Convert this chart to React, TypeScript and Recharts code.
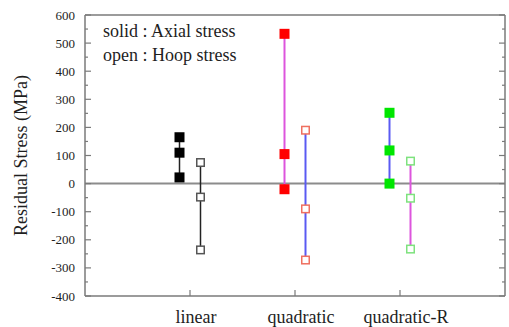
import { ScatterChart, Scatter, XAxis, YAxis, ReferenceLine } from "recharts";

const categories = ["linear", "quadratic", "quadratic-R"];

// residual stress (MPa), three measurements per fitting model
const axialLinear = [165, 110, 22];
const hoopLinear = [75, -48, -236];
const axialQuadratic = [533, 105, -20];
const hoopQuadratic = [190, -90, -272];
const axialQuadraticR = [252, 118, 0];
const hoopQuadraticR = [80, -52, -233];

const yTicks = [
  -400, -350, -300, -250, -200, -150, -100, -50, 0, 50, 100, 150, 200, 250,
  300, 350, 400, 450, 500, 550, 600,
];
const xTicks = [1, 2, 3];

const FONT = '"Liberation Serif", "Times New Roman", serif';
const AXIS = "#7a7a7a";
const TEXT = "#1e1e1e";

type Kind = "axial" | "hoop";

const series: {
  key: string;
  cat: number;
  kind: Kind;
  values: number[];
  color: string;
  lineColor: string;
}[] = [
  { key: "lin-axial", cat: 0, kind: "axial", values: axialLinear, color: "#000000", lineColor: "#222222" },
  { key: "lin-hoop", cat: 0, kind: "hoop", values: hoopLinear, color: "#555555", lineColor: "#222222" },
  { key: "quad-axial", cat: 1, kind: "axial", values: axialQuadratic, color: "#ff0000", lineColor: "#dd55dd" },
  { key: "quad-hoop", cat: 1, kind: "hoop", values: hoopQuadratic, color: "#ef7060", lineColor: "#5a5af2" },
  { key: "quadR-axial", cat: 2, kind: "axial", values: axialQuadraticR, color: "#00e600", lineColor: "#5a5af2" },
  { key: "quadR-hoop", cat: 2, kind: "hoop", values: hoopQuadraticR, color: "#7ee27e", lineColor: "#dd55dd" },
];

// axial points sit left of the category tick, hoop points right of it
const toPoints = (cat: number, kind: Kind, values: number[]) =>
  values.map((v) => ({ x: cat + 1 + (kind === "axial" ? -0.1 : 0.1), y: v }));

const solidSquare = (color: string) => (p: any) => (
  <rect x={p.cx - 5} y={p.cy - 5} width={10} height={10} fill={color} />
);

const openSquare = (color: string) => (p: any) => (
  <rect
    x={p.cx - 3.75}
    y={p.cy - 3.75}
    width={7.5}
    height={7.5}
    fill="#ffffff"
    stroke={color}
    strokeWidth={1.5}
  />
);

function LeftTick(props: any) {
  const { x, y, payload } = props;
  const v = payload.value as number;
  const major = v % 100 === 0;
  return (
    <g>
      <line x1={x} x2={x + (major ? 6 : 3)} y1={y} y2={y} stroke={AXIS} strokeWidth={1.2} />
      {major && (
        <text x={x - 10} y={y} dy="0.35em" textAnchor="end" fontSize={13} fontFamily={FONT} fill={TEXT}>
          {v}
        </text>
      )}
    </g>
  );
}

function RightTick(props: any) {
  const { x, y, payload } = props;
  const major = (payload.value as number) % 100 === 0;
  return <line x1={x} x2={x - (major ? 6 : 3)} y1={y} y2={y} stroke={AXIS} strokeWidth={1.2} />;
}

function BottomTick(props: any) {
  const { x, y, payload } = props;
  return (
    <g>
      <line x1={x} x2={x} y1={y} y2={y - 6} stroke={AXIS} strokeWidth={1.2} />
      <text x={x + 6} y={y + 27} textAnchor="middle" fontSize={18} fontFamily={FONT} fill={TEXT}>
        {categories[payload.value - 1]}
      </text>
    </g>
  );
}

function TopTick(props: any) {
  const { x, y } = props;
  return <line x1={x} x2={x} y1={y} y2={y + 6} stroke={AXIS} strokeWidth={1.2} />;
}

export default function App() {
  return (
    <div style={{ position: "absolute", left: 0, top: 0, width: 509, height: 327, background: "#fff" }}>
      <ScatterChart width={509} height={327} margin={{ top: 14, right: 3, bottom: 0, left: 0 }}>
        <XAxis
          xAxisId="bottom"
          type="number"
          dataKey="x"
          domain={[0, 4]}
          ticks={xTicks}
          interval={0}
          height={31}
          tickSize={0}
          tickMargin={0}
          tickLine={false}
          axisLine={{ stroke: AXIS, strokeWidth: 1.5 }}
          tick={<BottomTick />}
        />
        <XAxis
          xAxisId="top"
          orientation="top"
          type="number"
          domain={[0, 4]}
          allowDataOverflow
          ticks={xTicks}
          interval={0}
          height={1}
          tickSize={0}
          tickMargin={0}
          tickLine={false}
          axisLine={{ stroke: AXIS, strokeWidth: 1.5 }}
          tick={<TopTick />}
        />
        <YAxis
          yAxisId="left"
          type="number"
          dataKey="y"
          domain={[-400, 600]}
          ticks={yTicks}
          interval={0}
          width={85}
          tickSize={0}
          tickMargin={0}
          tickLine={false}
          axisLine={{ stroke: AXIS, strokeWidth: 1.5 }}
          tick={<LeftTick />}
          label={{
            value: "Residual Stress (MPa)",
            angle: -90,
            position: "insideLeft",
            offset: 21,
            style: { textAnchor: "middle", fontSize: 18, fontFamily: FONT, fill: TEXT },
          }}
        />
        <YAxis
          yAxisId="right"
          orientation="right"
          type="number"
          domain={[-400, 600]}
          allowDataOverflow
          ticks={yTicks}
          interval={0}
          width={1}
          tickSize={0}
          tickMargin={0}
          tickLine={false}
          axisLine={{ stroke: AXIS, strokeWidth: 1.5 }}
          tick={<RightTick />}
        />
        <ReferenceLine xAxisId="bottom" yAxisId="left" y={0} stroke="#8c8c8c" strokeWidth={2} />
        {series.map((s) => (
          <Scatter
            key={s.key}
            xAxisId="bottom"
            yAxisId="left"
            data={toPoints(s.cat, s.kind, s.values)}
            line={{ stroke: s.lineColor, strokeWidth: s.cat === 0 ? 1.5 : 2 }}
            shape={s.kind === "axial" ? solidSquare(s.color) : openSquare(s.color)}
            isAnimationActive={false}
          />
        ))}
      </ScatterChart>
      <div
        style={{
          position: "absolute",
          left: 103,
          top: 20,
          fontFamily: FONT,
          fontSize: 18,
          lineHeight: "23.5px",
          color: TEXT,
          whiteSpace: "nowrap",
        }}
      >
        <div>solid : Axial stress</div>
        <div>open : Hoop stress</div>
      </div>
    </div>
  );
}
